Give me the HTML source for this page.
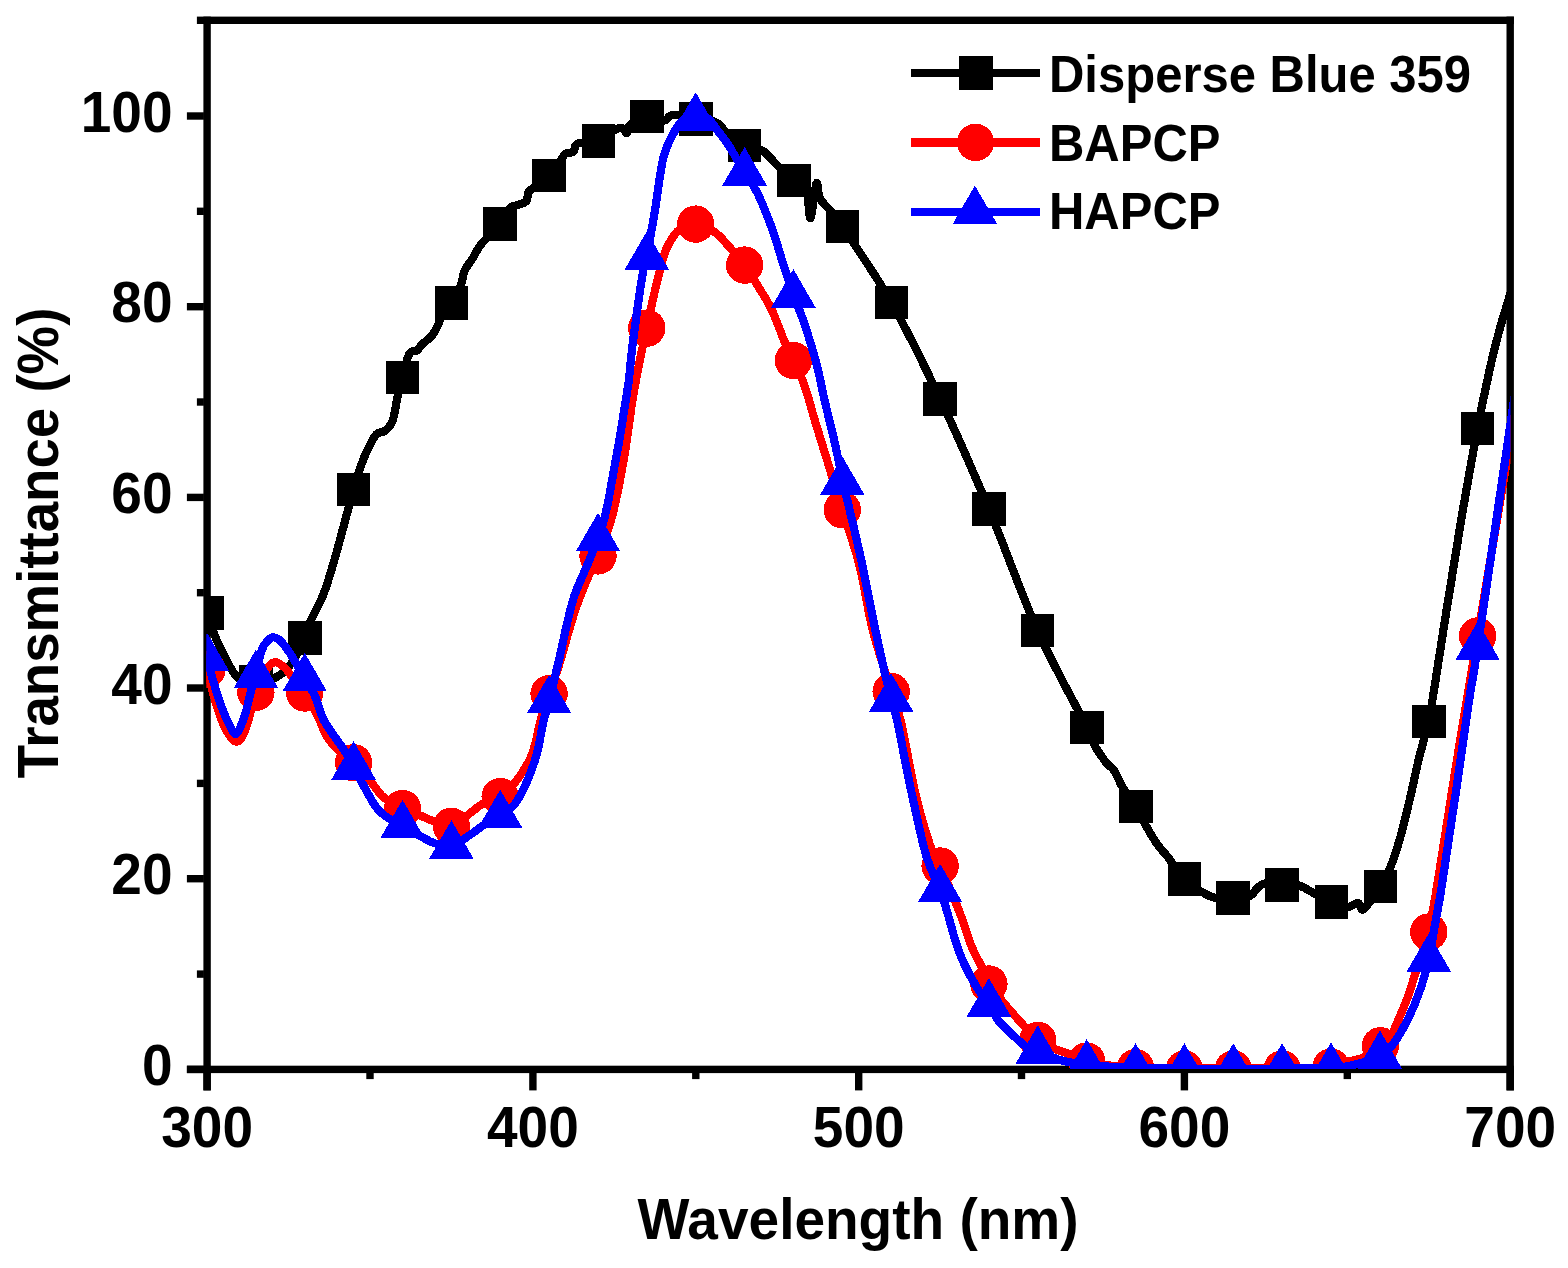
<!DOCTYPE html>
<html lang="en"><head><meta charset="utf-8"><title>Transmittance spectra</title>
<style>html,body{margin:0;padding:0;background:#fff}body{width:1568px;height:1268px;overflow:hidden}svg{display:block}text{font-family:"Liberation Sans",Arial,Helvetica,sans-serif;font-weight:bold;fill:#000}.t{font-size:55px}.l{font-size:49px}</style></head><body>
<svg width="1568" height="1268" viewBox="0 0 1568 1268">
<rect width="1568" height="1268" fill="#fff"/>
<defs><clipPath id="c"><rect x="206.3" y="20" width="1304.2" height="1049.1"/></clipPath></defs>
<g fill="#000">
<rect x="203.4" y="16.6" width="7.4" height="1073.8"/>
<rect x="1506.5" y="16.6" width="7.4" height="1073.8"/>
<rect x="196.9" y="16.6" width="1317" height="7.4"/>
<rect x="186.9" y="1065.7" width="1327" height="7.4"/>
<rect x="186.9" y="1065.7" width="17" height="7.4"/>
<rect x="196.9" y="970.4" width="7" height="7.4"/>
<rect x="186.9" y="875" width="17" height="7.4"/>
<rect x="196.9" y="779.7" width="7" height="7.4"/>
<rect x="186.9" y="684.3" width="17" height="7.4"/>
<rect x="196.9" y="589" width="7" height="7.4"/>
<rect x="186.9" y="493.7" width="17" height="7.4"/>
<rect x="196.9" y="398.3" width="7" height="7.4"/>
<rect x="186.9" y="303" width="17" height="7.4"/>
<rect x="196.9" y="207.6" width="7" height="7.4"/>
<rect x="186.9" y="112.3" width="17" height="7.4"/>
<rect x="203.4" y="1069.4" width="7.4" height="21"/>
<rect x="366.3" y="1069.4" width="7.4" height="9.7"/>
<rect x="529.2" y="1069.4" width="7.4" height="21"/>
<rect x="692.1" y="1069.4" width="7.4" height="9.7"/>
<rect x="855" y="1069.4" width="7.4" height="21"/>
<rect x="1017.8" y="1069.4" width="7.4" height="9.7"/>
<rect x="1180.7" y="1069.4" width="7.4" height="21"/>
<rect x="1343.6" y="1069.4" width="7.4" height="9.7"/>
<rect x="1506.5" y="1069.4" width="7.4" height="21"/>
</g>
<g clip-path="url(#c)" shape-rendering="crispEdges" fill="none" stroke-width="8.2" stroke-linejoin="round" stroke-linecap="round">
<path stroke="#000" d="M207 612.7C208.1 616.1 211.4 627.1 213.7 633C215.9 638.9 218.2 643.2 220.5 648C222.8 652.8 225.2 657.7 227.5 662C229.8 666.3 232.2 671.1 234.5 674C236.8 676.9 237.4 678.2 241 679.5C244.6 680.8 250.2 682.4 256 682C261.8 681.6 270.2 680.2 275.9 677.4C281.6 674.6 285.4 671.6 290.2 665C295 658.4 301.3 645.2 304.7 637.9C308.1 630.6 307.6 628.1 310.7 621C313.8 613.9 319.6 603.8 323 595.4C326.4 587 328.5 579.7 331.2 570.8C333.9 561.9 335.7 555.6 339.4 542C343.1 528.4 349.8 502.6 353.6 489.4C357.4 476.2 359.6 469.8 362 463C364.4 456.2 365.7 453.4 368.1 448.6C370.5 443.8 373.6 437.2 376.3 434.3C379 431.4 381.9 433.1 384.5 431.2C387.1 429.3 390 426.2 391.7 423C393.4 419.8 393.8 416.3 394.8 411.7C395.8 407.1 396.5 401 397.8 395.3C399.1 389.6 400.6 384.3 402.5 377.5C404.4 370.7 406.6 358.9 409.1 354.3C411.6 349.8 415.1 351.9 417.3 350.2C419.5 348.5 420 346.4 422.4 344C424.8 341.6 429.1 339 431.7 335.9C434.3 332.8 436.2 328.6 437.8 325.6C439.4 322.6 438.7 321.8 441 318C443.3 314.2 448.1 308.3 451.4 303C454.7 297.7 458.4 291.4 460.6 286C462.8 280.6 462.6 275.2 464.7 270.5C466.8 265.8 470.1 262.4 472.9 258C475.7 253.6 476.8 249.6 481.3 244C485.9 238.4 495.4 230.2 500.2 224.2C505 218.2 507 211.3 510 208.1C513 204.9 515.5 206.2 518.2 205C520.9 203.8 524.7 203.2 526.4 201C528.1 198.8 527.4 193.8 528.4 191.7C529.4 189.6 529 191.4 532.5 188.7C536 186 544.4 180.5 549.2 175.6C554 170.7 558.5 163.1 561.2 159.5C563.9 155.9 563.2 155.1 565.3 153.8C567.3 152.5 571.5 153.5 573.5 151.8C575.5 150.1 573.4 145.4 577.6 143.6C581.8 141.8 592.3 143.2 598.6 140.8C604.9 138.4 611.5 131.5 615.5 129.4C619.5 127.3 620.8 127.6 622.7 128.2C624.6 128.8 625.6 133.5 626.8 133C628 132.5 626.5 127.8 629.9 125C633.3 122.2 641.3 117.2 647 116.5C652.7 115.8 660.4 120.6 664.2 120.5C668 120.4 667.5 116.6 670 115.7C672.5 114.8 674.7 114.7 679 115.2C683.3 115.7 690.3 117.7 696 118.7C701.7 119.7 708.8 119.7 713 121C717.2 122.3 719.2 124.3 721.5 126.5C723.8 128.7 723.2 130.9 727 134C730.8 137.1 738.4 142.5 744.4 145.3C750.4 148.1 757.5 147.7 762.8 150.8C768.1 154 771 159.2 776.2 164.2C781.4 169.1 788.8 176.2 793.8 180.5C798.8 184.8 803.2 183.8 806 190C808.8 196.2 808.8 219.1 810.5 218C812.2 216.9 814.8 186.7 816.4 183.5C818 180.3 817.5 193.8 820 198.6C822.5 203.3 828 207.4 831.7 212C835.4 216.6 832.5 211.3 842.4 226.4C852.3 241.5 875.1 273.8 891.4 302.5C907.7 331.2 923.8 364.4 940.1 398.8C956.4 433.2 972.8 470.6 989 509.2C1005.2 547.8 1021.3 594.2 1037.6 630.6C1053.9 667 1077.6 708.4 1087 727.3C1096.4 746.2 1090.6 738.1 1093.8 744C1097 749.9 1102.7 758 1106.1 762.5C1109.5 767 1111.6 766.6 1114.3 770.7C1117 774.8 1118.9 781.2 1122.5 787.1C1126.1 793 1132 800.1 1135.8 806.3C1139.5 812.4 1141.4 817.6 1145 824C1148.6 830.4 1153.6 839 1157.4 844.5C1161.2 850 1163.1 851 1167.6 856.8C1172.1 862.5 1179 873.2 1184.6 879C1190.2 884.8 1196.4 888.6 1201.4 891.7C1206.4 894.8 1209.5 896.7 1214.8 897.8C1220.1 898.9 1227.3 898.4 1233.2 898.1C1239.1 897.8 1245.9 897.5 1250 895.8C1254.1 894 1255.2 889.7 1257.8 887.6C1260.4 885.5 1261.4 883.8 1265.4 883.4C1269.5 883 1276.5 884.6 1282.1 885C1287.7 885.4 1293.3 884 1298.8 885.5C1304.2 887 1309.4 890.9 1314.8 893.7C1320.2 896.5 1325.8 900 1331.3 902.2C1336.8 904.4 1343.3 906.9 1347.8 907C1352.2 907.1 1355.3 902.7 1358 903C1360.7 903.3 1360.1 911.8 1363.8 909C1367.5 906.2 1376 892.8 1380.3 886.3C1384.6 879.8 1386.2 877.5 1389.4 869.7C1392.6 861.9 1396.3 851.3 1399.7 839.4C1403.1 827.5 1406.9 811.4 1410 798.4C1413.1 785.4 1415.8 771.5 1418.2 761.5C1420.6 751.5 1422.5 745 1424.3 738.3C1426.1 731.6 1425.5 741.1 1428.9 721.4C1432.4 701.7 1439.7 653.4 1445 620C1450.3 586.6 1455.6 553 1461 521C1466.4 489.1 1472.8 453.8 1477.6 428.3C1482.4 402.8 1486.3 384.7 1490 368C1493.7 351.3 1496.5 340.7 1500 328C1503.5 315.3 1508 302.6 1510.8 291.6C1513.6 280.6 1516 266.9 1517 262"/>
<g fill="#000" stroke="none"><rect x="190.2" y="595.9" width="33.6" height="33.6"/><rect x="239.2" y="665.2" width="33.6" height="33.6"/><rect x="287.9" y="621.1" width="33.6" height="33.6"/><rect x="336.8" y="472.6" width="33.6" height="33.6"/><rect x="385.7" y="360.7" width="33.6" height="33.6"/><rect x="434.6" y="286.2" width="33.6" height="33.6"/><rect x="483.4" y="207.4" width="33.6" height="33.6"/><rect x="532.4" y="158.8" width="33.6" height="33.6"/><rect x="581.8" y="124" width="33.6" height="33.6"/><rect x="630.2" y="99.7" width="33.6" height="33.6"/><rect x="679.2" y="101.9" width="33.6" height="33.6"/><rect x="727.6" y="128.5" width="33.6" height="33.6"/><rect x="777" y="163.7" width="33.6" height="33.6"/><rect x="825.6" y="209.6" width="33.6" height="33.6"/><rect x="874.6" y="285.7" width="33.6" height="33.6"/><rect x="923.3" y="382" width="33.6" height="33.6"/><rect x="972.2" y="492.4" width="33.6" height="33.6"/><rect x="1020.8" y="613.8" width="33.6" height="33.6"/><rect x="1070.2" y="710.5" width="33.6" height="33.6"/><rect x="1119" y="789.5" width="33.6" height="33.6"/><rect x="1167.8" y="862.2" width="33.6" height="33.6"/><rect x="1216.4" y="881.3" width="33.6" height="33.6"/><rect x="1265.3" y="868.2" width="33.6" height="33.6"/><rect x="1314.5" y="885.4" width="33.6" height="33.6"/><rect x="1363.5" y="869.5" width="33.6" height="33.6"/><rect x="1412.1" y="704.6" width="33.6" height="33.6"/><rect x="1460.8" y="411.5" width="33.6" height="33.6"/></g>
<path stroke="#f00" d="M207 669.5C208.3 674.6 212 690.2 215 700C218 709.8 221.4 721 225 728C228.6 735 233 741.7 236.5 741.7C240 741.7 242.8 736.2 246 728C249.2 719.8 252.7 701.7 255.9 692.4C259.1 683.1 261.9 677 265 672C268.1 667 270.9 662.9 274.2 662.2C277.5 661.5 281.5 664.9 285 668C288.5 671.1 291.7 676.8 295 681C298.3 685.2 301.1 687.5 304.7 693C308.3 698.5 313.2 707 316.9 714.3C320.6 721.6 323.4 730.7 327.1 736.8C330.9 742.9 335 746.7 339.4 751C343.8 755.3 348.3 757.6 353.6 762.8C358.9 768 366.1 776.3 371 782C375.9 787.7 378.1 792.6 383.3 797C388.6 801.4 396.4 805.4 402.5 808.5C408.6 811.6 415.3 813.5 420.2 815.5C425.1 817.5 426.8 818.7 432 820.5C437.2 822.3 444.8 827.7 451.4 826.3C458 824.9 466.4 815.6 471.5 812C476.6 808.4 476.9 807.1 481.7 804.5C486.5 801.9 495.1 799.7 500.2 796.6C505.2 793.5 508.6 789.6 512 786C515.4 782.4 517.5 779.5 520.5 775C523.5 770.5 527.5 764.3 530 759C532.5 753.7 534 748.3 535.5 743C537 737.7 537.6 732.8 539 727C540.4 721.2 542.3 713.5 544 708C545.7 702.5 546.4 701.4 549.1 693.7C551.8 686 556.8 672.3 560 662C563.2 651.7 565.7 641.5 568.5 632C571.3 622.5 573.6 614.5 577 605C580.4 595.5 585.5 583.2 589 575C592.5 566.8 594.1 565.9 598 555.9C601.9 545.9 608.1 531.5 612.5 514.8C616.9 498 621.2 474.5 624.5 455.4C627.8 436.3 629.8 416.8 632.5 400C635.2 383.2 638.6 366.8 641 354.8C643.4 342.8 644.5 338.7 646.8 328.1C649.1 317.5 651.8 303.8 654.8 291.2C657.8 278.6 661.6 261.9 665 252.3C668.4 242.7 672 238.2 675.3 233.8C678.6 229.4 681.6 227.6 685 226C688.4 224.4 690.8 223.1 695.7 224.1C700.6 225.1 708.8 228.1 714.3 231.8C719.8 235.5 723.5 240.5 728.6 246.1C733.7 251.7 739.8 258.6 744.6 265.1C749.4 271.6 752.8 277.6 757.3 285C761.8 292.4 767.2 300.5 771.7 309.7C776.2 318.9 780.4 331.9 784 340.4C787.6 348.9 790 353 793.4 360.5C796.8 368 801 375.6 804.5 385.5C808 395.4 810.9 407.3 814.7 420C818.5 432.7 822.9 446.6 827.5 461.5C832.1 476.4 837 492.7 842.3 509.7C847.5 526.7 854.1 544.3 859 563.5C863.9 582.7 867.5 608.1 871.5 625C875.5 641.9 879.7 653.9 883 665C886.3 676.1 888.2 682 891.2 691.5C894.2 701 897 705 901 722C905 739 910.7 773.3 915.5 793.8C920.3 814.3 925.9 833 930 845C934.1 857 935.2 854.8 940.1 866C945 877.2 954.2 898.5 959.5 912C964.8 925.5 968 937.7 971.8 946.9C975.5 956.1 979.1 961.2 982 967.4C984.9 973.6 984.8 977.5 988.9 984C993 990.5 1000.9 999.5 1006.6 1006.3C1012.3 1013.1 1017.8 1019.1 1023 1024.8C1028.2 1030.5 1032.3 1036.3 1037.8 1040.4C1043.3 1044.5 1050.8 1047.1 1055.8 1049.3C1060.8 1051.5 1062.9 1051.5 1068.1 1053.5C1073.2 1055.5 1079.7 1059 1086.7 1061C1093.7 1063 1101.9 1064.5 1110 1065.5C1118.1 1066.5 1123.1 1066.9 1135.5 1067.3C1147.9 1067.7 1168.1 1067.8 1184.4 1068C1200.7 1068.2 1217 1068.2 1233.3 1068.3C1249.6 1068.3 1265.8 1068.5 1282.1 1068.3C1298.4 1068.1 1320.3 1068 1331 1067C1341.7 1066 1341.5 1063.4 1346.4 1062C1351.4 1060.6 1356.8 1060 1360.7 1058.5C1364.6 1057 1366.7 1055.1 1370 1053C1373.3 1050.9 1377.2 1048.3 1380.5 1045.8C1383.8 1043.3 1387.2 1041.8 1390 1038C1392.8 1034.2 1394 1029.8 1397 1023C1400 1016.2 1404.5 1006 1407.8 997C1411.1 988 1413.2 979.8 1416.7 969C1420.2 958.2 1426.2 941 1428.8 932C1431.3 923 1430.8 921.7 1432 915C1433.2 908.3 1434.1 904.3 1436.1 892C1438.1 879.7 1441.5 857.8 1444.2 841C1446.9 824.2 1449.4 808 1452 791.3C1454.6 774.6 1457.3 757.8 1460 741C1462.7 724.2 1465.5 707.9 1468.4 690.4C1471.3 672.9 1469.4 684.7 1477.6 636C1485.8 587.3 1510.8 437.7 1517.5 398"/>
<g fill="#f00" stroke="none"><circle cx="207" cy="669.5" r="18.7"/><circle cx="255.9" cy="692.4" r="18.7"/><circle cx="304.7" cy="693" r="18.7"/><circle cx="353.6" cy="762.8" r="18.7"/><circle cx="402.5" cy="808.5" r="18.7"/><circle cx="451.4" cy="826.3" r="18.7"/><circle cx="500.2" cy="796.6" r="18.7"/><circle cx="549.1" cy="693.7" r="18.7"/><circle cx="598" cy="555.9" r="18.7"/><circle cx="646.8" cy="328.1" r="18.7"/><circle cx="695.7" cy="224.1" r="18.7"/><circle cx="744.6" cy="265.1" r="18.7"/><circle cx="793.4" cy="360.5" r="18.7"/><circle cx="842.3" cy="509.7" r="18.7"/><circle cx="891.2" cy="691.5" r="18.7"/><circle cx="940.1" cy="866" r="18.7"/><circle cx="988.9" cy="984" r="18.7"/><circle cx="1037.8" cy="1040.4" r="18.7"/><circle cx="1086.7" cy="1061" r="18.7"/><circle cx="1135.5" cy="1067.7" r="18.7"/><circle cx="1184.4" cy="1069" r="18.7"/><circle cx="1233.3" cy="1069" r="18.7"/><circle cx="1282.1" cy="1069" r="18.7"/><circle cx="1331" cy="1067" r="18.7"/><circle cx="1380.5" cy="1045.8" r="18.7"/><circle cx="1428.8" cy="932" r="18.7"/><circle cx="1477.6" cy="636" r="18.7"/></g>
<path stroke="#00f" d="M207 658.4C208.1 662.3 211.2 674.4 213.5 682C215.8 689.6 217.9 697 220.5 704C223.1 711 226.3 719 229 724C231.7 729 233.8 735.3 236.5 733.7C239.2 732.1 242.6 721.6 245.1 714.3C247.6 706.9 249.5 696.1 251.3 689.6C253.1 683.1 254.2 681.7 255.9 675.2C257.6 668.7 259.5 656.5 261.5 650.7C263.5 644.9 265.6 642.7 267.7 640.5C269.8 638.3 271.8 637.1 274.2 637.4C276.6 637.7 279 639.2 282 642.5C285 645.8 288.5 650.9 292.3 656.9C296.1 662.9 300.9 672 304.7 678.5C308.4 685 311.8 689.1 314.8 695.8C317.9 702.4 319.9 711.9 323 718.4C326.1 724.9 329.9 729.7 333.3 734.8C336.7 739.9 340.1 743.8 343.5 749.1C346.9 754.4 350 760.3 353.6 766.8C357.2 773.3 361 781.1 364.9 788.1C368.8 795.1 373.1 803.5 377.2 808.6C381.3 813.7 385.3 816.1 389.5 818.9C393.7 821.7 397.4 822.6 402.5 825.5C407.6 828.4 414.9 833.1 420.2 836C425.4 838.9 428.8 841.3 434 843C439.2 844.7 445.5 847.3 451.4 846C457.3 844.7 464 838.8 469.4 835.3C474.8 831.8 478.7 828.3 483.8 825C488.9 821.7 495.1 818.7 500.2 815.3C505.3 811.9 510.1 810 514.5 804.5C518.9 799 523 790.5 526.8 782C530.5 773.5 534.3 763.2 537 753.3C539.7 743.4 541.2 731.3 543.2 722.5C545.2 713.7 546.5 710.9 549.1 700.5C551.7 690.1 555.9 673.4 559 660C562.1 646.6 565.2 631 567.9 620C570.6 609 571.7 603.3 575 594C578.3 584.7 583.9 573.2 587.7 564C591.5 554.8 595.5 545 598 538.5C600.5 532 601.1 529.6 602.5 525C603.9 520.4 605 515.9 606.2 510.7C607.4 505.5 608.3 501.2 609.7 493.6C611.1 486 613.1 474.5 614.8 465C616.5 455.5 618.3 446.3 619.9 436.8C621.5 427.3 623 417.5 624.5 408C626 398.5 627.5 390.6 628.9 380C630.2 369.4 630.3 362 632.6 344.5C634.9 327 640.1 289.4 642.5 274.8C644.9 260.2 644.8 267.6 646.8 257C648.8 246.4 652 227.8 654.8 211.3C657.5 194.8 660 171.4 663.3 158C666.6 144.6 671.3 137.5 674.8 131C678.3 124.5 680.9 121.5 684.4 119C687.9 116.5 691.8 116.1 695.7 116C699.6 115.9 704.5 116.2 708 118.5C711.5 120.8 713.5 125.3 716.9 129.7C720.3 134.1 723.8 137.8 728.4 145C733 152.2 739.8 164.6 744.6 172.6C749.4 180.6 752.8 183.6 757.3 192.8C761.8 202 767.2 215.4 771.7 227.7C776.2 240 780.4 255.4 784 266.6C787.6 277.8 790 285.2 793.4 294.8C796.8 304.4 800.6 312.3 804.5 324C808.4 335.7 813.5 352.3 816.8 365C820.1 377.7 821.8 388.3 824.5 400C827.2 411.7 830.6 424.8 833 435C835.4 445.2 837.2 453.7 838.8 461.5C840.3 469.3 840.8 475.2 842.3 482C843.8 488.8 844.4 488.4 847.7 502C851 515.6 857.6 543 862 563.5C866.4 584 870.5 606.9 874.3 625C878.1 643.1 881.8 659.7 884.6 672C887.4 684.3 889.1 690.7 891.2 699C893.3 707.3 894 706.2 897.4 722C900.8 737.8 907 771.6 911.8 793.8C916.6 816 921.4 839.3 926.1 855.3C930.8 871.2 936.6 880 940.1 889.5C943.6 899 944 901.4 947.2 912C950.4 922.6 954.7 940.7 959.5 953C964.3 965.3 970.9 977.3 975.8 985.8C980.7 994.3 985.1 998 988.9 1003.8C992.7 1009.6 994.1 1015.1 998.4 1020.6C1002.7 1026.1 1010 1032.5 1014.8 1037C1019.6 1041.5 1023.3 1045 1027.1 1047.3C1030.9 1049.6 1032.3 1048.8 1037.8 1050.9C1043.3 1053 1051.8 1057.7 1060 1060C1068.2 1062.3 1074.1 1063.5 1086.7 1064.8C1099.3 1066.1 1119.2 1067.4 1135.5 1068C1151.8 1068.6 1168.1 1068.5 1184.4 1068.6C1200.7 1068.7 1217 1068.6 1233.3 1068.6C1249.6 1068.6 1265.8 1068.7 1282.1 1068.6C1298.4 1068.5 1320.5 1068.4 1331 1068.1C1341.5 1067.8 1339.8 1067.7 1345 1066.8C1350.2 1065.9 1356.7 1064.3 1362.5 1062.5C1368.3 1060.7 1374.9 1058.9 1379.9 1056C1384.9 1053.1 1387.8 1051.1 1392.5 1045C1397.2 1038.9 1403.1 1028.8 1407.8 1019.4C1412.5 1010 1417 998.9 1420.5 988.8C1424 978.7 1426.5 968.8 1428.8 959C1431 949.2 1432 941.2 1434 930C1436 918.8 1438.4 906.8 1440.8 892C1443.2 877.2 1446 857.8 1448.5 841C1451 824.2 1453.5 808 1456 791.3C1458.5 774.6 1460.8 757.8 1463.2 741C1465.6 724.2 1468.2 706 1470.6 690.4C1473 674.8 1470.3 696.4 1477.6 647.3C1484.9 598.2 1508 440.6 1514.6 396C1521.2 351.4 1516.6 382.7 1517 380"/>
<g fill="#00f" stroke="none"><polygon points="207,632.7 184.7,671.3 229.3,671.3"/><polygon points="255.9,649.5 233.6,688.1 278.2,688.1"/><polygon points="304.7,652.8 282.4,691.4 327,691.4"/><polygon points="353.6,741.1 331.3,779.7 375.9,779.7"/><polygon points="402.5,799.8 380.2,838.4 424.8,838.4"/><polygon points="451.4,820.3 429.1,858.9 473.7,858.9"/><polygon points="500.2,789.6 477.9,828.2 522.5,828.2"/><polygon points="549.1,674.8 526.8,713.4 571.4,713.4"/><polygon points="598,512.8 575.7,551.4 620.3,551.4"/><polygon points="646.8,231.3 624.5,269.9 669.1,269.9"/><polygon points="695.7,92.2 673.4,130.8 718,130.8"/><polygon points="744.6,146.9 722.3,185.5 766.9,185.5"/><polygon points="793.4,269.1 771.1,307.7 815.7,307.7"/><polygon points="842.3,456.3 820,494.9 864.6,494.9"/><polygon points="891.2,673.3 868.9,711.9 913.5,711.9"/><polygon points="940.1,863.8 917.8,902.4 962.4,902.4"/><polygon points="988.9,978.1 966.6,1016.7 1011.2,1016.7"/><polygon points="1037.8,1025.2 1015.5,1063.8 1060.1,1063.8"/><polygon points="1086.7,1039.1 1064.4,1077.7 1109,1077.7"/><polygon points="1135.5,1043.2 1113.2,1081.8 1157.8,1081.8"/><polygon points="1184.4,1043.2 1162.1,1081.8 1206.7,1081.8"/><polygon points="1233.3,1043.2 1211,1081.8 1255.6,1081.8"/><polygon points="1282.1,1043.2 1259.8,1081.8 1304.4,1081.8"/><polygon points="1331,1042.4 1308.7,1081 1353.3,1081"/><polygon points="1379.9,1030.3 1357.6,1068.9 1402.2,1068.9"/><polygon points="1428.8,933.3 1406.5,971.9 1451.1,971.9"/><polygon points="1477.6,621.6 1455.3,660.2 1499.9,660.2"/></g>
</g>
<text class="t" text-anchor="end" transform="translate(172.5 1085.1) scale(1 1.04)">0</text>
<text class="t" text-anchor="end" transform="translate(172.5 894.4) scale(1 1.04)">20</text>
<text class="t" text-anchor="end" transform="translate(172.5 703.7) scale(1 1.04)">40</text>
<text class="t" text-anchor="end" transform="translate(172.5 513.1) scale(1 1.04)">60</text>
<text class="t" text-anchor="end" transform="translate(172.5 322.4) scale(1 1.04)">80</text>
<text class="t" text-anchor="end" transform="translate(172.5 131.7) scale(1 1.04)">100</text>
<text class="t" text-anchor="middle" transform="translate(207.1 1146.6) scale(1 1.04)">300</text>
<text class="t" text-anchor="middle" transform="translate(532.9 1146.6) scale(1 1.04)">400</text>
<text class="t" text-anchor="middle" transform="translate(858.7 1146.6) scale(1 1.04)">500</text>
<text class="t" text-anchor="middle" transform="translate(1184.4 1146.6) scale(1 1.04)">600</text>
<text class="t" text-anchor="middle" transform="translate(1510.2 1146.6) scale(1 1.04)">700</text>
<text class="t" text-anchor="middle" transform="translate(858 1239) scale(1 1.04)">Wavelength (nm)</text>
<text class="t" text-anchor="middle" transform="translate(58 542.9) rotate(-90) scale(0.9934 1.04)">Transmittance (%)</text>
<g shape-rendering="crispEdges">
<g stroke-width="8.2" fill="none">
<path stroke="#000" d="M911.3 73.2H1039.7"/><path stroke="#f00" d="M911.3 142.4H1039.7"/><path stroke="#00f" d="M911.3 211.6H1039.7"/>
</g>
<g fill="#000"><rect x="958.9" y="56.4" width="33.6" height="33.6"/></g>
<g fill="#f00"><circle cx="975.5" cy="142.4" r="18.7"/></g>
<g fill="#00f"><polygon points="974.9,185.5 952.6,224.1 997.2,224.1"/></g>
</g>
<text class="l" text-anchor="start" transform="translate(1049 91.9) scale(1 1.04)">Disperse Blue 359</text>
<text class="l" text-anchor="start" transform="translate(1049 160.7) scale(1 1.04)">BAPCP</text>
<text class="l" text-anchor="start" transform="translate(1049 228.6) scale(1 1.04)">HAPCP</text>
</svg></body></html>
